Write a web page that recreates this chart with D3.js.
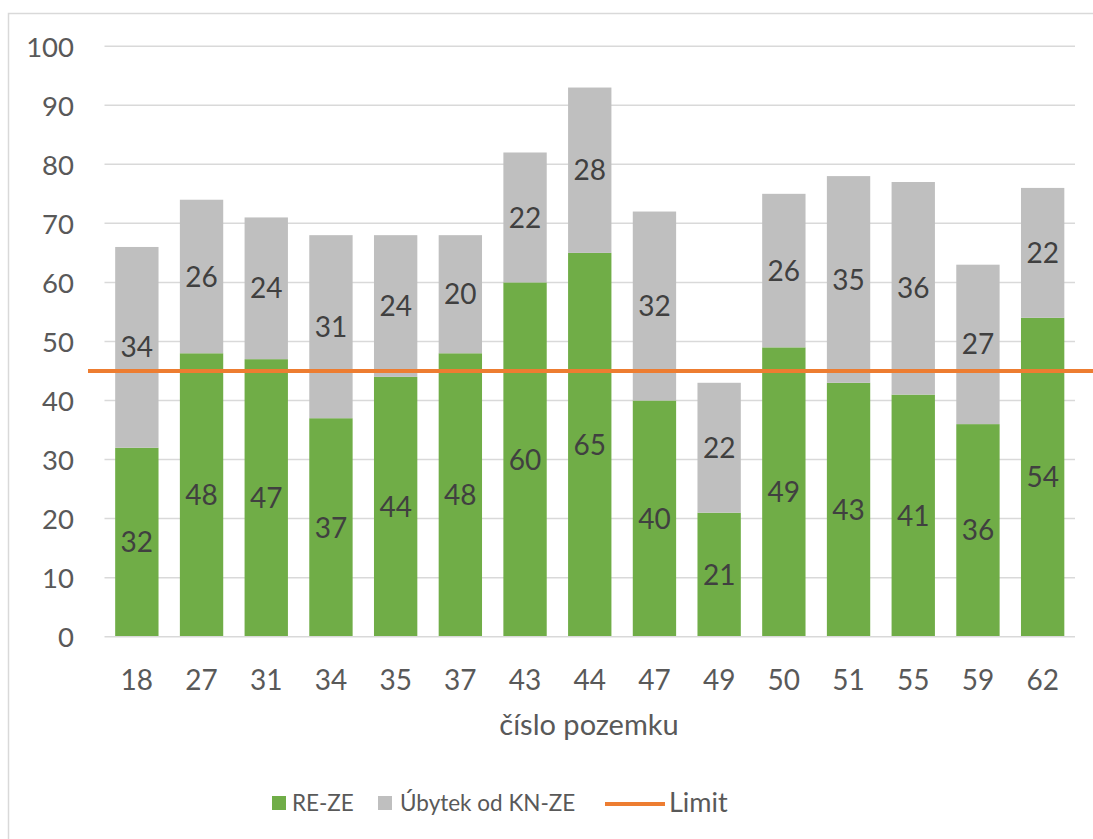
<!DOCTYPE html>
<html><head><meta charset="utf-8">
<script src="https://cdn.jsdelivr.net/npm/d3@7/dist/d3.min.js"></script>
<style>body{margin:0;background:#fff}svg{display:block}</style>
</head><body><svg id="c" width="1093" height="839"></svg>
<script>
const categories = ["18","27","31","34","35","37","43","44","47","49","50","51","55","59","62"];
const reZe = [32,48,47,37,44,48,60,65,40,21,49,43,41,36,54];
const ubytek = [34,26,24,31,24,20,22,28,32,22,26,35,36,27,22];
const limitValue = 45;
const yTicks = [0,10,20,30,40,50,60,70,80,90,100];
const seriesNames = ["RE-ZE","Úbytek od KN-ZE","Limit"];
const colors = {green:"#70ad47", gray:"#bfbfbf", orange:"#ed7d31"};

const svg = d3.select("#c");
const font = "Lato, 'Liberation Sans', sans-serif";
svg.append("rect").attr("x",8.5).attr("y",13.5).attr("width",1100).attr("height",840)
  .attr("fill","#fff").attr("stroke","#d9d9d9").attr("stroke-width",1.5);

const x = d3.scaleBand().domain(categories).range([104.5,1075]).paddingInner(0.33).paddingOuter(0.165);
const y = d3.scaleLinear().domain([0,100]).range([636.7,46.2]);

// gridlines
svg.append("g").selectAll("line").data(yTicks.filter(d=>d>0)).join("line")
  .attr("x1",104.5).attr("x2",1075).attr("y1",d=>y(d)).attr("y2",d=>y(d))
  .attr("stroke","#d9d9d9").attr("stroke-width",1.5);

// y axis labels
const yAxis = d3.axisLeft(y).tickValues(yTicks).tickSize(0).tickPadding(0);
const gy = svg.append("g").attr("transform","translate(74,0)").call(yAxis);
gy.select(".domain").remove();
gy.selectAll("text").attr("font-family",font).attr("font-size",27.5).attr("fill","#595959").attr("dy","0.36em");

// stacked bars
const stackData = categories.map((c,i)=>({cat:c, a:reZe[i], b:ubytek[i]}));
const stack = d3.stack().keys(["a","b"])(stackData);
const fills = [colors.green, colors.gray];
stack.forEach((layer,li)=>{
  const g = svg.append("g");
  g.selectAll("rect").data(layer).join("rect")
    .attr("x",d=>x(d.data.cat)).attr("width",x.bandwidth())
    .attr("y",d=>y(d[1])).attr("height",d=>y(d[0])-y(d[1]))
    .attr("fill",fills[li]);
});
// baseline
svg.append("line").attr("x1",104.5).attr("x2",1075).attr("y1",y(0)).attr("y2",y(0))
  .attr("stroke","#d9d9d9").attr("stroke-width",1.5);

// data labels
stack.forEach((layer,li)=>{
  svg.append("g").selectAll("text").data(layer).join("text")
    .attr("x",d=>x(d.data.cat)+x.bandwidth()/2)
    .attr("y",d=>y((d[0]+d[1])/2)).attr("dy","0.36em")
    .attr("text-anchor","middle").attr("font-family",font).attr("font-size",28)
    .attr("fill","#404040").text(d=>d[1]-d[0]);
});

// limit line
svg.append("line").attr("x1",88).attr("x2",1093).attr("y1",y(limitValue)).attr("y2",y(limitValue))
  .attr("stroke",colors.orange).attr("stroke-width",4);

// x axis labels
const xAxis = d3.axisBottom(x).tickSize(0).tickPadding(0);
const gx = svg.append("g").attr("transform","translate(0,680)").call(xAxis);
gx.select(".domain").remove();
gx.selectAll("text").attr("font-family",font).attr("font-size",28).attr("fill","#595959").attr("dy","0.36em").attr("y",0);

svg.append("text").attr("x",589).attr("y",725).attr("dy","0.36em").attr("text-anchor","middle")
  .attr("font-family",font).attr("font-size",29).attr("fill","#595959").text("číslo pozemku");

// legend
const lg = svg.append("g");
lg.append("rect").attr("x",272).attr("y",796).attr("width",14).attr("height",14).attr("fill",colors.green);
lg.append("text").attr("x",292).attr("y",803).attr("dy","0.36em").attr("font-family",font).attr("font-size",22.5).attr("fill","#595959").text(seriesNames[0]);
lg.append("rect").attr("x",378).attr("y",796).attr("width",14).attr("height",14).attr("fill",colors.gray);
lg.append("text").attr("x",400).attr("y",803).attr("dy","0.36em").attr("font-family",font).attr("font-size",22.5).attr("fill","#595959").text(seriesNames[1]);
lg.append("line").attr("x1",605).attr("x2",665).attr("y1",804).attr("y2",804).attr("stroke",colors.orange).attr("stroke-width",4);
lg.append("text").attr("x",669).attr("y",802).attr("dy","0.36em").attr("font-family",font).attr("font-size",27).attr("fill","#595959").text(seriesNames[2]);
</script></body></html>
